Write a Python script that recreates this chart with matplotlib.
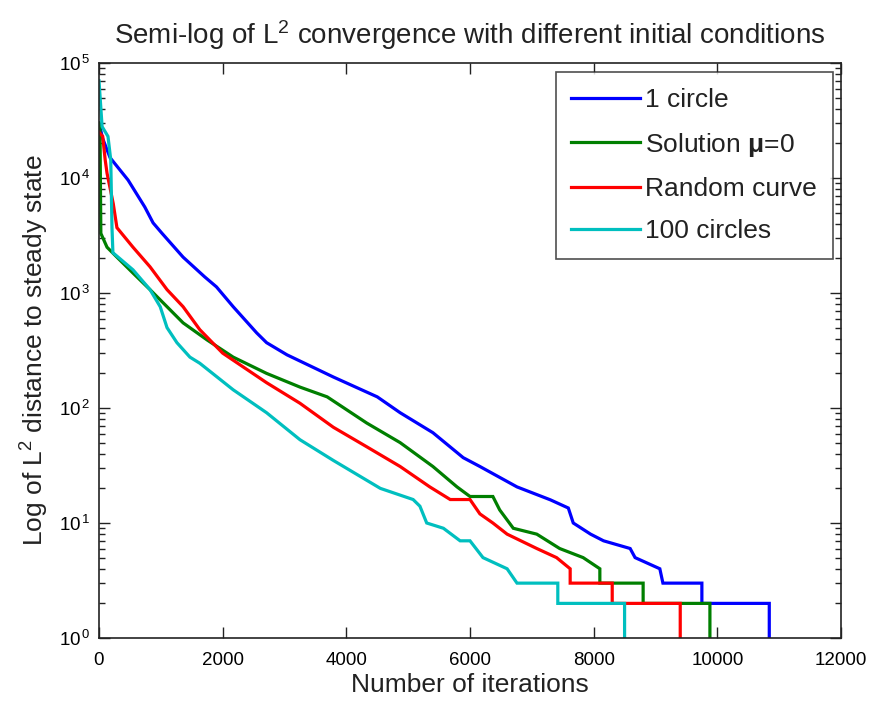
import matplotlib
matplotlib.use("Agg")
import matplotlib.pyplot as plt
import matplotlib.ticker as mticker
import numpy as np

plt.rcParams['font.family'] = ['Liberation Sans', 'DejaVu Sans']
plt.rcParams['mathtext.fontset'] = 'custom'
plt.rcParams['mathtext.rm'] = 'Liberation Sans'
plt.rcParams['mathtext.it'] = 'Liberation Sans:italic'
plt.rcParams['mathtext.bf'] = 'Liberation Sans:bold'

title = "Semi-log of L$^2$ convergence with different initial conditions"
xlabel = "Number of iterations"
ylabel = "Log of L$^2$ distance to steady state"
labels = ["1 circle", "Solution $\\mathbf{\\mu}$=0", "Random curve", "100 circles"]
colors = ["#0000ff", "#007f00", "#ff0000", "#00bfbf"]
xticks = [0, 2000, 4000, 6000, 8000, 10000, 12000]

# 1 circle
x_blue = [0, 60, 180, 470, 740, 875, 1020, 1360, 1710, 1900, 2170, 2550, 2710, 3040, 3790, 4500,
          4870, 5400, 5890, 6160, 6760, 7300, 7590, 7670, 7950, 8160, 8590, 8670, 9070, 9120,
          9750, 9750, 10840, 10840]
y_blue = [30000, 22000, 15000, 9600, 5600, 4070, 3300, 2050, 1380, 1130, 760, 450, 370, 290, 186, 125,
          91, 61, 37, 31, 20.6, 15.9, 13.5, 10, 8, 7, 6, 5, 4, 3,
          3, 2, 2, 0.5]

# Solution mu=0
x_green = [0, 16, 30, 130, 290, 550, 825, 1100, 1360, 1750, 2170, 2710, 3250, 3690, 4330, 4870,
           5400, 5790, 6000, 6370, 6480, 6700, 7080, 7450, 7830, 8100, 8100, 8800, 8800,
           9880, 9880]
y_green = [30000, 26000, 3300, 2500, 2050, 1490, 1070, 760, 550, 390, 277, 200, 152, 125, 74, 50,
           31, 20.6, 17, 17, 13, 9, 8, 6, 5, 4, 3, 3, 2,
           2, 0.5]

# Random curve
x_red = [0, 60, 100, 130, 230, 290, 550, 825, 1100, 1360, 1630, 2000, 2710, 3250, 3790, 4330,
         4870, 5350, 5680, 6000, 6160, 6370, 6600, 7080, 7400, 7620, 7620, 8300, 8300,
         9400, 9400]
y_red = [25000, 23000, 14400, 11000, 6000, 3700, 2500, 1690, 1070, 760, 480, 300, 166, 110, 68, 46,
         31, 20.6, 16, 16, 12, 10, 8, 6, 5, 4, 3, 3, 2,
         2, 0.5]

# 100 circles
x_cyan = [0, 50, 145, 190, 210, 225, 550, 825, 990, 1100, 1260, 1470, 1630, 2170, 2710, 3250,
          3790, 4550, 5080, 5190, 5300, 5570, 5840, 6000, 6210, 6600, 6760, 7420, 7420,
          8500, 8500]
y_cyan = [70000, 28000, 23000, 14400, 3700, 2240, 1590, 1070, 760, 500, 370, 277, 245, 144, 91, 53,
          35, 20, 16, 14, 10, 9, 7, 7, 5, 4, 3, 3, 2,
          2, 0.5]

fig = plt.figure(figsize=(8.73, 7.07), dpi=100)
ax = fig.add_axes([99/873, 69/707, 742/873, 575/707])

series = [(x_blue, y_blue), (x_green, y_green), (x_red, y_red), (x_cyan, y_cyan)]
for (xs, ys), c, lab in zip(series, colors, labels):
    ax.plot(xs, ys, color=c, lw=2.3, label=lab, solid_joinstyle='miter')

ax.set_yscale('log')
ax.set_xlim(0, 12000)
ax.set_ylim(1, 1e5)
ax.set_xticks(xticks)
ax.xaxis.set_major_formatter(mticker.FuncFormatter(lambda v, p: f"{int(v)}"))
ax.yaxis.set_major_locator(mticker.LogLocator(base=10, numticks=10))
ax.yaxis.set_minor_locator(mticker.LogLocator(base=10, subs=np.arange(2, 10), numticks=20))
ax.yaxis.set_minor_formatter(mticker.NullFormatter())
ax.yaxis.set_major_formatter(mticker.FuncFormatter(lambda v, p: "10$^{\\,%d}$" % int(round(np.log10(v)))))

ax.tick_params(which='both', direction='in', top=True, right=True, labelsize=13.5, color='#222222')
ax.tick_params(which='major', length=8, width=1)
ax.tick_params(which='minor', length=4, width=1)
ax.tick_params(axis='x', pad=10)
ax.tick_params(axis='y', pad=6)
for s in ax.spines.values():
    s.set_linewidth(1.2)
    s.set_color('#222222')

ax.set_title(title, fontsize=20, pad=14, color='#222222')
ax.set_xlabel(xlabel, fontsize=19, labelpad=3, color='#222222')
ax.set_ylabel(ylabel, fontsize=19, labelpad=6, color='#222222')

leg = ax.legend(loc='upper right', bbox_to_anchor=(0.989, 0.984), fontsize=19, frameon=True,
                fancybox=False, edgecolor='#222222', handlelength=2.6, handletextpad=0.2,
                borderpad=0.6, labelspacing=0.7, borderaxespad=0.0)
leg.get_frame().set_linewidth(1.2)
for t in leg.get_texts():
    t.set_color('#222222')

fig.savefig("out.png", dpi=100)
